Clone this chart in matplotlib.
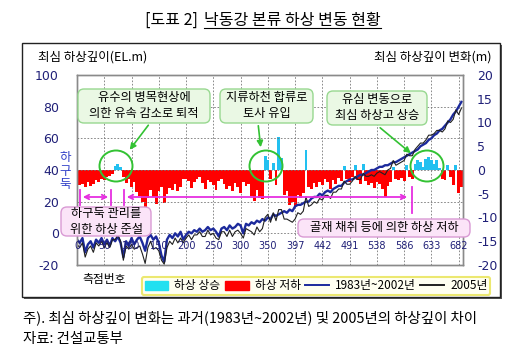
import numpy as np
import matplotlib.pyplot as plt
from matplotlib.patches import Ellipse, FancyBboxPatch, FancyArrowPatch, Rectangle, Patch
from matplotlib.lines import Line2D
from matplotlib.transforms import Affine2D, IdentityTransform

plt.rcParams['font.family'] = ['Noto Sans CJK KR', 'DejaVu Sans']
plt.rcParams['axes.unicode_minus'] = False

# x tick labels (measurement point numbers), one every 50 points
tick_labels = ["0", "50", "100", "150", "200", "250", "300", "350",
               "397", "442", "491", "538", "586", "633", "682"]

# change of the deepest bed level (m, right axis), one value every 5 points
change_m = [
    -2.8, -3.2, -3.0, -3.5, -2.6, -3.4, -2.9, -2.2, -2.5, -1.8,
    -2.2, -1.5, -1.2, -0.8, 0.8, 1.2, 0.6, -1.5, -2.8, -1.8,
    -3.5, -2.5, -4.6, -5.5, -6.8, -8.5, -6.0, -4.2, -5.6, -7.2,
    -4.5, -3.5, -7.0, -5.0, -3.8, -4.2, -3.0, -4.5, -3.6, -2.0,
    -1.8, -2.4, -3.8, -2.6, -2.0, -1.5, -2.8, -3.9, -2.2, -2.6,
    -3.2, -4.2, -2.4, -2.0, -3.0, -4.0, -3.4, -4.5, -2.8, -3.6,
    -4.8, -2.5, -3.3, -3.0, -5.5, -6.5, -4.2, -5.8, -6.2, 3.0,
    2.2, -2.0, 1.5, -3.2, 7.0, 2.5, -5.2, -4.4, -7.4, -6.8,
    -7.6, -5.2, -6.0, -4.8, 4.3, -3.5, -4.0, -2.8, -3.6, -2.5,
    -3.2, -1.8, -2.6, -4.0, -2.2, -3.0, -1.6, -2.4, 0.8, -1.8,
    -2.6, -1.4, 1.0, -2.2, -3.0, 1.2, -2.4, -3.2, -2.8, -3.8,
    -2.6, -3.0, -4.0, -5.6, -3.4, -2.6, 0.7, -1.8, -2.2, -1.6,
    -2.4, 1.0, -1.4, -2.0, 1.2, 2.0, 1.6, 0.6, 2.4, 2.8,
    2.2, 1.2, 2.0, 0.5, -1.8, -2.2, 1.0, -1.5, -3.2, 1.0,
    -4.8, -3.6,
]

# deepest bed elevation (EL.m, left axis), 1983~2002
elev_past = [
    -4, -6, -3, -12, -7, -5, -9, -4, -6, -3,
    -7, -4, -8, -3, -5, -2, -6, -15, -5, -8,
    -3, -7, -4, -2, -6, -11, -3, -1, -4, -2,
    -6, -14, -18, -4, -1, -3, 0, -2, 1, -4,
    -1, 1, 0, 2, 1, 3, 1, 2, 4, 2,
    3, 1, -2, 3, 4, 2, 5, 3, 4, 6,
    5, 0, 6, 5, 7, 6, 8, 7, 9, 8,
    10, 9, 12, 11, 12, 13, 14, 13, 15, 14,
    17, 18, 18, 19, 20, 20, 22, 23, 23, 25,
    24, 26, 27, 26, 28, 29, 30, 30, 32, 33,
    34, 34, 35, 36, 37, 37, 38, 39, 40, 40,
    41, 42, 42, 43, 43, 44, 45, 45, 46, 47,
    48, 49, 50, 51, 52, 53, 55, 56, 57, 59,
    60, 62, 63, 65, 66, 68, 70, 72, 75, 77,
    80, 83,
]

# deepest bed elevation (EL.m, left axis), 2005
elev_2005 = [
    -7, -9, -6, -15, -10, -8, -12, -6, -8, -5,
    -9, -6, -9, -4, -4, -1, -5, -17, -8, -10,
    -7, -10, -9, -8, -13, -19, -9, -5, -10, -9,
    -11, -17, -19.5, -9, -5, -7, -3, -6, -3, -6,
    -3, -1, -4, -1, -1, 1, -2, -2, 2, -1,
    0, -3, -4, 1, 1, -2, 2, -2, 1, 2,
    0, -3, 3, 2, 1, -1, 4, 1, 3, 10,
    12, 7, 13, 8, 15, 15, 9, 9, 8, 7,
    9, 13, 12, 14, 23, 17, 18, 20, 19, 22,
    21, 24, 24, 22, 26, 26, 28, 28, 33, 31,
    31, 33, 36, 34, 34, 38, 36, 36, 37, 36,
    38, 39, 38, 37, 40, 41, 46, 43, 44, 45,
    46, 50, 49, 49, 53, 55, 57, 57, 59, 62,
    62, 63, 65, 65, 64, 66, 71, 70, 72, 78,
    75, 79,
]

W, H = 527, 351
fig = plt.figure(figsize=(W / 100, H / 100), dpi=100)
# pixel coordinates, origin top-left
T = Affine2D().scale(1 / W, -1 / H).translate(0, 1) + fig.transFigure

# outer frame with shadow
fig.add_artist(Rectangle((24, 45), 478, 254, transform=T, facecolor='#555555',
                         edgecolor='none', zorder=-3))
fig.add_artist(Rectangle((22, 43), 478, 254, transform=T, facecolor='white',
                         edgecolor='#222222', linewidth=1.0, zorder=-2))

ax = fig.add_axes([77 / W, 1 - 265 / H, (463 - 77) / W, 190 / H])
ax_r = ax.twinx()
ax.set_zorder(ax_r.get_zorder() + 1)
ax.patch.set_visible(False)

x = np.arange(len(change_m)) * 5
chg = np.array(change_m)
up = chg > 0
ax_r.bar(x[up], chg[up], width=5.4, color='#22c0f0', linewidth=0, label='하상 상승')
ax_r.bar(x[~up], chg[~up], width=5.4, color='#ff0000', linewidth=0, label='하상 저하')

ax.plot(x, elev_past, color='#1c2a9c', linewidth=1.7, label='1983년~2002년')
ax.plot(x, elev_2005, color='#202020', linewidth=0.8, label='2005년')

tick_pos = np.arange(len(tick_labels)) * 50
for p in tick_pos[1:]:
    ax_r.axvline(p, color='#777777', linewidth=0.6, linestyle=(0, (2, 2)), zorder=0)

ax.set_xlim(0, 708)
ax.set_ylim(-20, 100)
ax_r.set_ylim(-20, 20)
ax.set_xticks(tick_pos)
ax.tick_params(axis='x', length=0, labelbottom=False)
ax.grid(axis='y', color='#777777', linewidth=0.6, linestyle=(0, (2, 2)))

tick_color = '#202078'
ax.set_yticks(np.arange(-20, 101, 20))
ax.tick_params(axis='y', length=0, pad=13, labelsize=9, labelcolor=tick_color)
ax_r.set_yticks(np.arange(-20, 21, 5))
ax_r.tick_params(axis='y', length=0, pad=10, labelsize=9, labelcolor=tick_color)
for lab in ax.get_yticklabels() + ax_r.get_yticklabels():
    lab.set_family('DejaVu Sans')

for a in (ax, ax_r):
    for s in a.spines.values():
        s.set_color('#8a8a8a')
        s.set_linewidth(1.0)

for p, lab in zip(tick_pos, tick_labels):
    ax.text(p, 0.1, lab, transform=ax.get_xaxis_transform(), ha='center',
            va='center', fontsize=7, color=tick_color, family='DejaVu Sans', zorder=5)

# title with underline
fig.text(198, 20, '[도표 2]', transform=T, ha='right', va='center', fontsize=11.5)
t_main = fig.text(204, 20, '낙동강 본류 하상 변동 현황', transform=T, ha='left',
                  va='center', fontsize=11.5)
fig.canvas.draw()
bb = t_main.get_window_extent()
fig.add_artist(Line2D([bb.x0, bb.x1], [bb.y0 + 1, bb.y0 + 1], transform=IdentityTransform(),
                      color='black', linewidth=0.8))

# axis titles
fig.text(38, 57, '최심 하상깊이(EL.m)', transform=T, ha='left', va='center', fontsize=9)
fig.text(492, 57, '최심 하상깊이 변화(m)', transform=T, ha='right', va='center', fontsize=9)
fig.text(104, 279, '측점번호', transform=T, ha='center', va='center', fontsize=8.5)
fig.text(65, 171, '하\n구\n둑', transform=T, ha='center', va='center', fontsize=9,
         color='#3040c8', linespacing=1.05)

# green callouts
green = '#33c233'
def rbox(x0, y0, x1, y1, fc, ec):
    fig.add_artist(FancyBboxPatch((x0, y0), x1 - x0, y1 - y0, transform=T,
                                  boxstyle='round,pad=0,rounding_size=6',
                                  facecolor=fc, edgecolor=ec, linewidth=1.0, zorder=3))

callouts = [
    ((78, 89, 210, 123), '유수의 병목현상에\n의한 유속 감소로 퇴적'),
    ((220, 89, 313, 123), '지류하천 합류로\n토사 유입'),
    ((327, 91, 427, 125), '유심 변동으로\n최심 하상고 상승'),
]
for (x0, y0, x1, y1), txt in callouts:
    rbox(x0, y0, x1, y1, '#eaf8e4', '#98d890')
    fig.text((x0 + x1) / 2, (y0 + y1) / 2, txt, transform=T, ha='center', va='center',
             fontsize=8.8, linespacing=1.3, zorder=4)

for cx, cy in [(116, 166), (266, 166), (427, 166)]:
    fig.add_artist(Ellipse((cx, cy), 33, 31, transform=T, fill=False,
                           edgecolor=green, linewidth=1.4, zorder=4))

for a, b in [((150, 123), (128, 152)), ((258, 123), (261, 150)), ((378, 126), (413, 155))]:
    fig.add_artist(FancyArrowPatch(a, b, transform=T, arrowstyle='-|>', mutation_scale=9,
                                   color=green, linewidth=1.2, zorder=4))

# magenta ranges
mag = '#e62ee0'
for xv, y0, y1 in [(80, 190, 205), (111, 190, 205), (124, 190, 205), (412, 187, 213)]:
    fig.add_artist(Line2D([xv, xv], [y0, y1], transform=T, color=mag, linewidth=1.3, zorder=4))
for a, b in [((80, 197), (111, 197)), ((124, 197), (410, 197))]:
    fig.add_artist(FancyArrowPatch(a, b, transform=T, arrowstyle='<->', mutation_scale=8,
                                   color=mag, linewidth=1.3, zorder=4))

rbox(61, 207, 151, 236, '#fbe4f8', '#d99ad4')
fig.text(106, 221.5, '하구둑 관리를\n위한 하상 준설', transform=T, ha='center', va='center',
         fontsize=8.8, linespacing=1.25, zorder=4)
rbox(298, 219, 470, 237, '#fbe4f8', '#d99ad4')
fig.text(384, 228, '골재 채취 등에 의한 하상 저하', transform=T, ha='center', va='center',
         fontsize=8.8, zorder=4)

# legend
handles = [Patch(color='#22e0f0'), Patch(color='#ff0000'),
           Line2D([], [], color='#1c2a9c', linewidth=1.4),
           Line2D([], [], color='#202020', linewidth=1.4)]
labels = ['하상 상승', '하상 저하', '1983년~2002년', '2005년']
leg = fig.legend(handles, labels, loc='center', bbox_to_anchor=(316 / W, 1 - 286 / H),
                 ncol=4, fontsize=8.5, frameon=True, fancybox=True, framealpha=1,
                 facecolor='#fffff0', edgecolor='#ece870', borderpad=0.25,
                 handlelength=2.0, handletextpad=0.5, columnspacing=0.4)
leg.get_frame().set_linewidth(1.5)

# footnotes
fig.text(23, 318, '주). 최심 하상깊이 변화는 과거(1983년~2002년) 및 2005년의 하상깊이 차이',
         transform=T, ha='left', va='center', fontsize=10.4)
fig.text(23, 339, '자료: 건설교통부', transform=T, ha='left', va='center', fontsize=10.4)

fig.savefig('out.png', dpi=100)
